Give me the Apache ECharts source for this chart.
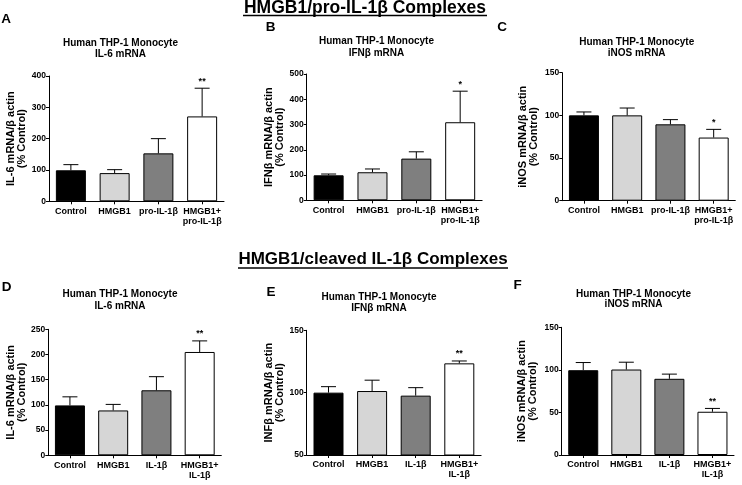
<!DOCTYPE html>
<html>
<head>
<meta charset="utf-8">
<script src="https://cdn.jsdelivr.net/npm/echarts@6/dist/echarts.min.js"></script>
<style>html,body{margin:0;padding:0;background:#fff}#c{width:742px;height:485px}</style>
</head>
<body>
<div id="c"></div>
<script>
// ---- data ----
const catsTop = ['Control', 'HMGB1', 'pro-IL-1β', 'HMGB1+\npro-IL-1β'];
const catsBottom = ['Control', 'HMGB1', 'IL-1β', 'HMGB1+\nIL-1β'];

const valsA = [99, 90, 153, 271];
const errsA = [18, 11, 47, 90];
const starsA = ['', '', '', '**'];

const valsB = [99, 111, 165, 309];
const errsB = [5, 13, 27, 123];
const starsB = ['', '', '', '*'];

const valsC = [100, 100, 89.5, 74];
const errsC = [4, 8.6, 5.5, 9.6];
const starsC = ['', '', '', '*'];

const valsD = [99, 89, 129, 205];
const errsD = [17, 12, 27, 22];
const starsD = ['', '', '', '**'];

const valsE = [100, 101.3, 97.6, 123.5];
const errsE = [4.8, 8.7, 6.4, 1.9];
const starsE = ['', '', '', '**'];

const valsF = [99.6, 100.4, 89.5, 50.8];
const errsF = [9, 8.6, 5.5, 3.9];
const starsF = ['', '', '', '**'];

const yTicksA = {min: 0, max: 400, interval: 100};
const yTicksB = {min: 0, max: 500, interval: 100};
const yTicksC = {min: 0, max: 150, interval: 50};
const yTicksD = {min: 0, max: 250, interval: 50};
const yTicksE = {min: 50, max: 150, interval: 50};
const yTicksF = {min: 0, max: 150, interval: 50};

const titleLine1 = 'Human THP-1 Monocyte';
const titlesLine2 = ['IL-6 mRNA', 'IFNβ mRNA', 'iNOS mRNA', 'IL-6 mRNA', 'IFNβ mRNA', 'iNOS mRNA'];
const yNames = ['IL-6 mRNA/β actin', 'IFNβ mRNA/β actin', 'iNOS mRNA/β actin',
                'IL-6 mRNA/β actin', 'INFβ mRNA/β actin', 'iNOS mRNA/β actin'];
const yName2 = '(% Control)';
const letters = ['A', 'B', 'C', 'D', 'E', 'F'];
const section1 = 'HMGB1/pro-IL-1β Complexes';
const section2 = 'HMGB1/cleaved IL-1β Complexes';

// ---- layout / style ----
const FONT = '"Liberation Sans", Arial, Helvetica, sans-serif';
const barColors = ['#000000', '#d6d6d6', '#7f7f7f', '#ffffff'];

const panels = [
  {cats: catsTop, vals: valsA, errs: errsA, stars: starsA, y: yTicksA, left: 49, top: 76, h: 125.3, w: 175, gap: 21, tx: 120.5, ty1: 43.5, ty2: 54, lx: 6, ly: 19.5},
  {cats: catsTop, vals: valsB, errs: errsB, stars: starsB, y: yTicksB, left: 306.7, top: 74, h: 126.3, w: 175.4, gap: 20, tx: 376.5, ty1: 41.5, ty2: 53, lx: 270.5, ly: 27},
  {cats: catsTop, vals: valsC, errs: errsC, stars: starsC, y: yTicksC, left: 562.3, top: 72.7, h: 128, w: 173, gap: 23, tx: 636.7, ty1: 42.5, ty2: 53.5, lx: 502, ly: 27.5},
  {cats: catsBottom, vals: valsD, errs: errsD, stars: starsD, y: yTicksD, left: 48.3, top: 329.3, h: 126, w: 173, gap: 21, tx: 120, ty1: 294, ty2: 306, lx: 6.5, ly: 287.5},
  {cats: catsBottom, vals: valsE, errs: errsE, stars: starsE, y: yTicksE, left: 306.7, top: 330.3, h: 124.7, w: 174.4, gap: 20, tx: 379, ty1: 297.5, ty2: 308, lx: 271, ly: 292},
  {cats: catsBottom, vals: valsF, errs: errsF, stars: starsF, y: yTicksF, left: 561.7, top: 327.3, h: 127.7, w: 172.3, gap: 23, tx: 633.5, ty1: 294, ty2: 304.5, lx: 517.5, ly: 285.5}
];

const grid = [], xAxis = [], yAxis = [], series = [], graphic = [];

panels.forEach((p, k) => {
  grid.push({left: p.left, top: p.top, width: p.w, height: p.h, containLabel: false});
  xAxis.push({
    type: 'category', gridIndex: k, data: p.cats, boundaryGap: true,
    axisLine: {show: true, lineStyle: {color: '#000', width: 1}},
    axisTick: {show: true, alignWithLabel: true, length: 3, lineStyle: {color: '#000'}},
    axisLabel: {interval: 0, margin: 5, color: '#000', fontFamily: FONT, fontWeight: 'bold', fontSize: 9, lineHeight: 10}
  });
  yAxis.push({
    type: 'value', gridIndex: k, min: p.y.min, max: p.y.max, interval: p.y.interval,
    name: yNames[k] + '\n' + yName2, nameLocation: 'middle', nameRotate: 90, nameGap: p.gap,
    nameTextStyle: {color: '#000', fontFamily: FONT, fontWeight: 'bold', fontSize: 11, lineHeight: 11},
    axisLine: {show: true, lineStyle: {color: '#000', width: 1}},
    axisTick: {show: true, length: 3, lineStyle: {color: '#000'}},
    axisLabel: {margin: 3, color: '#000', fontFamily: FONT, fontWeight: 'bold', fontSize: 8.5},
    splitLine: {show: false}
  });
  series.push({
    type: 'bar', xAxisIndex: k, yAxisIndex: k, barWidth: 30,
    data: p.vals.map((v, i) => ({value: v, itemStyle: {color: barColors[i]}})),
    itemStyle: {borderColor: '#000', borderWidth: 1},
    emphasis: {disabled: true}, silent: true, z: 2
  });
  const stars = p.stars;
  series.push({
    type: 'custom', xAxisIndex: k, yAxisIndex: k, z: 3, silent: true,
    data: p.vals.map((v, i) => [i, v, p.errs[i]]),
    encode: {x: 0, y: 1},
    renderItem: function (params, api) {
      const x = api.value(0), v = api.value(1), e = api.value(2);
      const p0 = api.coord([x, v]);
      const p1 = api.coord([x, v + e]);
      const hw = 7.5;
      const children = [
        {type: 'line', shape: {x1: p0[0], y1: p0[1], x2: p1[0], y2: p1[1]}, style: {stroke: '#000', lineWidth: 1}},
        {type: 'line', shape: {x1: p1[0] - hw, y1: p1[1], x2: p1[0] + hw, y2: p1[1]}, style: {stroke: '#000', lineWidth: 1}}
      ];
      const s = stars[params.dataIndex];
      if (s) {
        children.push({type: 'text', x: p1[0], y: p1[1] - 7, style: {text: s, align: 'center', verticalAlign: 'middle', font: 'bold 9px ' + FONT, fill: '#000'}});
      }
      return {type: 'group', children: children};
    }
  });
  graphic.push({type: 'text', x: p.tx, y: p.ty1, style: {text: titleLine1, align: 'center', verticalAlign: 'middle', font: 'bold 10px ' + FONT, fill: '#000'}});
  graphic.push({type: 'text', x: p.tx, y: p.ty2, style: {text: titlesLine2[k], align: 'center', verticalAlign: 'middle', font: 'bold 10px ' + FONT, fill: '#000'}});
  graphic.push({type: 'text', x: p.lx, y: p.ly, style: {text: letters[k], align: 'center', verticalAlign: 'middle', font: 'bold 13.5px ' + FONT, fill: '#000'}});
});

graphic.push({type: 'text', x: 365, y: 8, style: {text: section1, align: 'center', verticalAlign: 'middle', font: 'bold 17.5px ' + FONT, fill: '#000'}});
graphic.push({type: 'line', shape: {x1: 243, y1: 15.5, x2: 487, y2: 15.5}, style: {stroke: '#000', lineWidth: 1.3}});
graphic.push({type: 'text', x: 373, y: 259, style: {text: section2, align: 'center', verticalAlign: 'middle', font: 'bold 17px ' + FONT, fill: '#000'}});
graphic.push({type: 'line', shape: {x1: 238, y1: 268, x2: 508, y2: 268}, style: {stroke: '#000', lineWidth: 1.3}});

const chart = echarts.init(document.getElementById('c'), null, {renderer: 'canvas'});
chart.setOption({
  animation: false,
  backgroundColor: '#ffffff',
  grid: grid, xAxis: xAxis, yAxis: yAxis, series: series, graphic: graphic
});
</script>
</body>
</html>
